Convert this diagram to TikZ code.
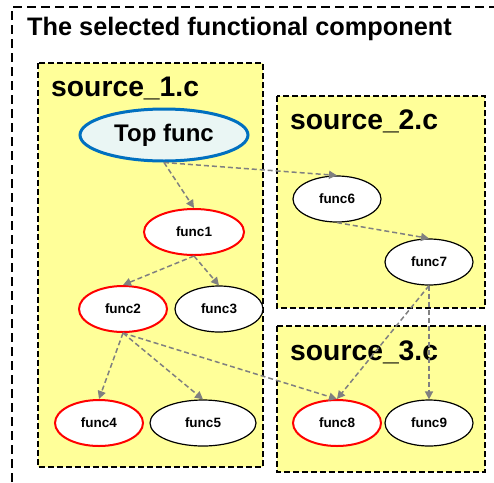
\documentclass[tikz,border=0pt]{standalone}
\usepackage{fontspec}
\setmainfont{Liberation Sans}
\usetikzlibrary{shapes.geometric,arrows.meta}
\definecolor{boxyellow}{HTML}{FFFF99}
\definecolor{topblue}{HTML}{0070C0}
\definecolor{topfill}{HTML}{EAF6F4}
\definecolor{arrgray}{HTML}{808080}
\tikzset{
  srcbox/.style={draw=black, fill=boxyellow, line width=1.4pt, dash pattern=on 6pt off 3pt},
  fn/.style={ellipse, draw=black, fill=white, line width=1.2pt, inner sep=0pt, minimum width=88pt, minimum height=46pt, font=\bfseries\fontsize{13.5}{15}\selectfont},
  redfn/.style={fn, draw=red, line width=2pt},
  srclabel/.style={anchor=west, inner sep=0pt, font=\bfseries\fontsize{28.3}{32}\selectfont},
  call/.style={draw=arrgray, line width=1.5pt, dash pattern=on 5pt off 3pt, -{Triangle[length=8pt,width=8pt]}},
}
\begin{document}
\begin{tikzpicture}[x=1pt,y=-1pt]
\useasboundingbox (0,0) rectangle (494,482);
\draw[line width=1.4pt, dash pattern=on 9pt off 5pt] (12,482) -- (12,7) -- (494,7);
\node[anchor=west, inner sep=0pt, font=\bfseries\fontsize{25.3}{29}\selectfont] (title) at (27,29) {The selected functional component};
\draw[srcbox] (38,63) rectangle (263,467);
\draw[srcbox] (277,96) rectangle (485,308);
\draw[srcbox] (277,326) rectangle (485,472);
\node[srclabel] (s1) at (51,88) {source\_1.c};
\node[srclabel] (s2) at (290,121) {source\_2.c};
\node[srclabel] (s3) at (290,352) {source\_3.c};
\node[ellipse, draw=topblue, fill=topfill, line width=3pt, inner sep=0pt, minimum width=168pt, minimum height=52pt, font=\bfseries\fontsize{24}{28}\selectfont] (top) at (164,135) {Top func};
\node[redfn, minimum width=100pt] (f1) at (194,232) {func1};
\node[redfn] (f2) at (123,309) {func2};
\node[fn] (f3) at (219,309) {func3};
\node[redfn] (f4) at (99,423) {func4};
\node[fn, minimum width=106pt] (f5) at (203,423) {func5};
\node[fn] (f6) at (337,199) {func6};
\node[fn] (f7) at (429,262) {func7};
\node[redfn] (f8) at (337,423) {func8};
\node[fn] (f9) at (429,423) {func9};
\draw[call] (top.south) -- (f1.north);
\draw[call] (top.south) -- (f6.north);
\draw[call] (f6.south) -- (f7.north);
\draw[call] (f1.south) -- (f2.north);
\draw[call] (f1.south) -- (f3.north);
\draw[call] (f2.south) -- (f4.north);
\draw[call] (f2.south) -- (f5.north);
\draw[call] (f2.south) -- (f8.north);
\draw[call] (f7.south) -- (f8.north);
\draw[call] (f7.south) -- (f9.north);
\end{tikzpicture}
\end{document}
